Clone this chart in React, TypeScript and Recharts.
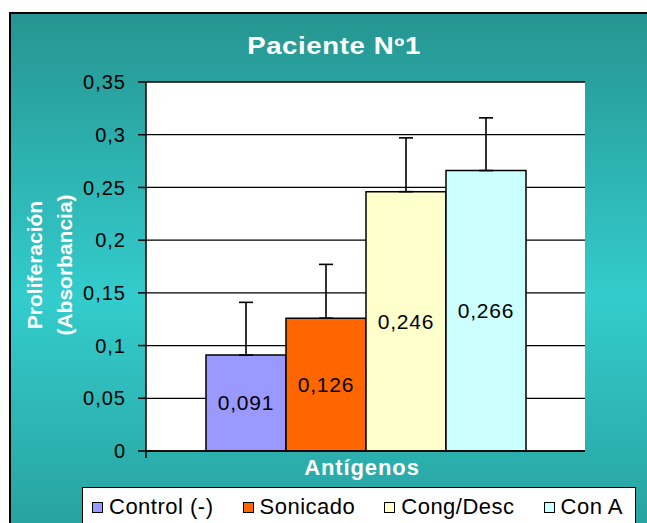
import { BarChart, Bar, XAxis, YAxis, CartesianGrid, ErrorBar, LabelList } from "recharts"

// Proliferation (absorbance) per antigen, patient 1
const antigens = ["Control (-)", "Sonicado", "Cong/Desc", "Con A"]
const absorbance = [0.091, 0.126, 0.246, 0.266]
const stdError = [0.05, 0.051, 0.051, 0.05]
const barColors = ["#9999FF", "#FF6600", "#FFFFCC", "#CCFFFF"]
const yTicks = [0, 0.05, 0.1, 0.15, 0.2, 0.25, 0.3, 0.35]

const row: Record<string, any> = { group: "Antígenos" }
antigens.forEach((_, i) => {
  row[`v${i}`] = absorbance[i]
  row[`e${i}`] = [0, stdError[i]] // upper whisker only
})
const data = [row]

const font = '"Liberation Sans", Arial, sans-serif'
const comma = (v: any) => String(v).replace(".", ",")

function Legend() {
  return (
    <div
      style={{
        position: "absolute",
        left: 82,
        top: 487,
        width: 554,
        height: 50,
        boxSizing: "border-box",
        background: "#fff",
        border: "1.5px solid #000",
        display: "flex",
        alignItems: "flex-start",
        paddingLeft: 9,
        paddingTop: 7,
        gap: 29,
        fontFamily: font,
        fontSize: 22,
        letterSpacing: 0.5,
        color: "#000",
        whiteSpace: "nowrap",
      }}
    >
      {antigens.map((name, i) => (
        <div key={name} style={{ display: "flex", alignItems: "center", lineHeight: "24px" }}>
          <span
            style={{
              display: "inline-block",
              width: 11,
              height: 11,
              boxSizing: "border-box",
              border: "1.5px solid #000",
              background: barColors[i],
              marginRight: 6,
            }}
          />
          {name}
        </div>
      ))}
    </div>
  )
}

export default function App() {
  return (
    <div style={{ position: "fixed", left: 0, top: 0, width: 647, height: 523, overflow: "hidden", background: "#fff" }}>
      <div
        style={{
          position: "absolute",
          left: 9,
          top: 12,
          width: 700,
          height: 530,
          boxSizing: "border-box",
          border: "2px solid #000",
          background: "linear-gradient(to bottom, #269591 0%, #33CCCC 54%, #27A09D 100%)",
        }}
      />
      <div style={{ position: "absolute", left: 0, top: 0 }}>
        <BarChart
          width={647}
          height={523}
          data={data}
          margin={{ top: 82, right: 62, bottom: 52, left: 86 }}
          barGap={0}
          barSize={80}
        >
          <CartesianGrid
            vertical={false}
            fill="#fff"
            fillOpacity={1}
            stroke="#000"
            strokeWidth={1.3}
          />
          <XAxis
            dataKey="group"
            height={20}
            tick={false}
            tickLine={false}
            axisLine={{ stroke: "#000", strokeWidth: 1.5 }}
          />
          <YAxis
            width={60}
            domain={[0, 0.35]}
            ticks={yTicks}
            interval={0}
            allowDataOverflow
            tickFormatter={comma}
            tickSize={8}
            tickMargin={12}
            tickLine={{ stroke: "#000", strokeWidth: 1.5 }}
            axisLine={{ stroke: "#000", strokeWidth: 1.5 }}
            tick={{ fill: "#000", fontSize: 20, fontFamily: font, letterSpacing: 1 }}
          />
          <YAxis
            yAxisId="frame"
            orientation="right"
            width={0}
            domain={[0, 0.35]}
            tick={false}
            tickLine={false}
            axisLine={{ stroke: "#222", strokeWidth: 1.5 }}
          />
          {antigens.map((name, i) => (
            <Bar
              key={name}
              dataKey={`v${i}`}
              name={name}
              fill={barColors[i]}
              stroke="#000"
              strokeWidth={1.5}
              isAnimationActive={false}
            >
              <ErrorBar dataKey={`e${i}`} direction="y" width={7} stroke="#000" strokeWidth={1.6} />
              <LabelList
                dataKey={`v${i}`}
                position="center"
                formatter={comma}
                fill="#000"
                fontSize={21}
                fontFamily={font}
                letterSpacing={0.8}
              />
            </Bar>
          ))}
        </BarChart>
      </div>
      <svg
        width={647}
        height={523}
        style={{ position: "absolute", left: 0, top: 0, pointerEvents: "none" }}
        fontFamily={font}
        fontWeight="bold"
        fill="#fff"
      >
        <text transform="translate(334 54) scale(1.2 1)" textAnchor="middle" fontSize={23} letterSpacing={0.5}>
          Paciente Nº1
        </text>
        <text x={362} y={475} textAnchor="middle" fontSize={22} letterSpacing={0.9}>
          Antígenos
        </text>
        <text x={42} y={265} textAnchor="middle" fontSize={21} transform="rotate(-90 42 265)">
          Proliferación
        </text>
        <text x={72} y={265} textAnchor="middle" fontSize={21} transform="rotate(-90 72 265)">
          (Absorbancia)
        </text>
        {/* short extension of the y axis below the baseline */}
        <line x1={146} y1={451} x2={146} y2={458} stroke="#000" strokeWidth={1.5} />
      </svg>
      <Legend />
    </div>
  )
}
